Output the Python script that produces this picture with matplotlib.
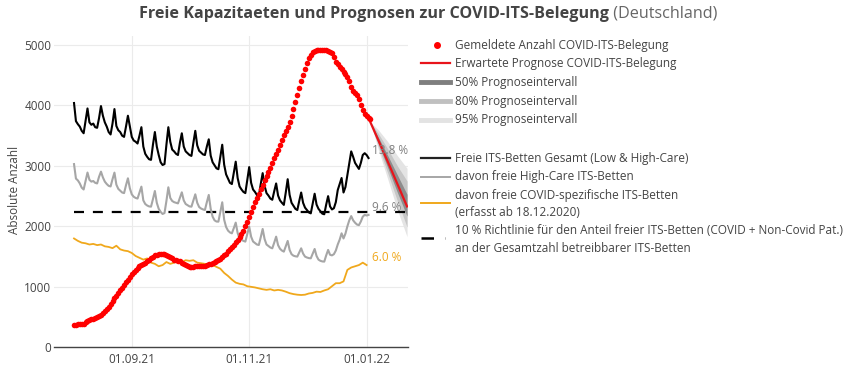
import matplotlib
matplotlib.use('Agg')
import matplotlib.pyplot as plt
import matplotlib.dates as mdates
from matplotlib.lines import Line2D
import pandas as pd

# ---------------- data ----------------
start_date = '2021-08-02'

red_occupancy = [
    370, 375, 380, 378, 385, 390, 420, 440, 445, 460,
    470, 490, 500, 520, 540, 570, 600, 630, 670, 720,
    770, 810, 850, 890, 940, 980, 1030, 1080, 1120, 1170,
    1210, 1250, 1280, 1310, 1340, 1360, 1380, 1400, 1420, 1450,
    1470, 1500, 1520, 1530, 1540, 1545, 1540, 1535, 1530, 1510,
    1490, 1470, 1450, 1440, 1430, 1420, 1400, 1380, 1360, 1345,
    1335, 1330, 1335, 1340, 1340, 1345, 1345, 1340, 1350, 1360,
    1370, 1380, 1395, 1405, 1420, 1440, 1460, 1490, 1520, 1550,
    1590, 1620, 1660, 1700, 1740, 1780, 1820, 1870, 1930, 2000,
    2080, 2160, 2240, 2320, 2400, 2470, 2540, 2610, 2680, 2760,
    2830, 2900, 2970, 3050, 3130, 3200, 3270, 3350, 3430, 3510,
    3580, 3640, 3720, 3820, 3940, 4060, 4170, 4290, 4400, 4500,
    4610, 4700, 4780, 4840, 4880, 4900, 4910, 4920, 4920, 4910,
    4920, 4910, 4900, 4890, 4860, 4800, 4720, 4680, 4640, 4600,
    4560, 4520, 4470, 4400, 4300, 4240, 4210, 4170, 4100, 4000,
    3920, 3860, 3820, 3800, 3780,
]

free_total = [
    4040, 3740, 3690, 3650, 3580, 3540, 3750,
    3950, 3720, 3680, 3700, 3640, 3630, 3790,
    3990, 3830, 3720, 3650, 3560, 3520, 3700,
    3940, 3660, 3590, 3560, 3500, 3480, 3650,
    3830, 3650, 3480, 3420, 3400, 3370, 3500,
    3640, 3320, 3200, 3150, 3110, 3100, 3350,
    3560, 3320, 3180, 3060, 3015, 3030, 3350,
    3640, 3400, 3270, 3240, 3200, 3180, 3380,
    3540, 3320, 3240, 3210, 3180, 3165, 3380,
    3580, 3340, 3250, 3220, 3190, 3180, 3320,
    3440, 3170, 3060, 3010, 2960, 2945, 3150,
    3350, 3020, 2860, 2790, 2720, 2700, 2880,
    3070, 2800, 2660, 2610, 2570, 2550, 2760,
    2980, 2720, 2610, 2570, 2520, 2500, 2700,
    2880, 2670, 2550, 2510, 2460, 2440, 2580,
    2710, 2510, 2430, 2390, 2355, 2560,
    2780, 2520, 2390, 2340, 2290, 2270, 2420,
    2560, 2390, 2310, 2270, 2230, 2215, 2380,
    2540, 2360, 2290, 2250, 2210, 2200, 2360,
    2500, 2330, 2280, 2300, 2400, 2600, 2700, 2800, 2560, 2650, 2850,
    3050, 3240, 3150, 3050, 3000, 2950, 3050, 3180, 3210, 3180, 3130,
]

free_high_care = [
    3030, 2790, 2760, 2710, 2640, 2610, 2750,
    2890, 2770, 2740, 2750, 2720, 2710, 2820,
    2905, 2810, 2740, 2700, 2670, 2660, 2780,
    2889, 2690, 2620, 2590, 2560, 2550, 2680,
    2795, 2630, 2530, 2490, 2470, 2460, 2560,
    2657, 2430, 2370, 2345, 2330, 2326, 2450,
    2585, 2390, 2290, 2240, 2205, 2220, 2420,
    2646, 2470, 2420, 2400, 2390, 2380, 2470,
    2563, 2430, 2370, 2350, 2330, 2326, 2430,
    2530, 2390, 2320, 2295, 2280, 2271, 2400,
    2520, 2290, 2160, 2100, 2080, 2078, 2240,
    2398, 2110, 1990, 1930, 1900, 1885, 1970,
    2062, 1890, 1800, 1775, 1760, 1748, 1870,
    1996, 1830, 1750, 1725, 1700, 1692, 1820,
    1957, 1790, 1700, 1675, 1650, 1637, 1730,
    1830, 1690, 1630, 1600, 1582, 1670,
    1759, 1610, 1540, 1515, 1505, 1500, 1570,
    1637, 1550, 1500, 1485, 1475, 1472, 1550,
    1626, 1510, 1450, 1430, 1420, 1417, 1520,
    1610, 1530, 1520, 1540, 1600, 1700, 1780, 1885, 1800, 1880, 2000,
    2100, 2170, 2100, 2060, 2030, 2020, 2080, 2160, 2190, 2180, 2190,
]

free_covid = [  # every second day
    1800, 1760, 1730, 1720, 1700, 1710, 1690, 1700, 1670, 1660,
    1640, 1680, 1620, 1600, 1590, 1560, 1510, 1480, 1450, 1470,
    1400, 1380, 1340, 1360, 1410, 1380, 1400, 1420, 1410, 1440,
    1430, 1440, 1400, 1390, 1380, 1370, 1360, 1330, 1300, 1230,
    1180, 1120, 1070, 1050, 1040, 1010, 1000, 990, 975, 960,
    950, 960, 940, 950, 940, 920, 895, 880, 870, 865,
    870, 890, 900, 920, 915, 940, 960, 1010, 1060, 1060,
    1090, 1280, 1320, 1340, 1360, 1400, 1360,
]

guideline_value = 2244

fc_dates = ['2022-01-03', '2022-01-07', '2022-01-12', '2022-01-17', '2022-01-22']
fc_mid = [3720, 3430, 3070, 2700, 2330]
fc50_lo = [3720, 3380, 2970, 2560, 2170]
fc50_hi = [3720, 3480, 3170, 2850, 2530]
fc80_lo = [3720, 3330, 2880, 2420, 1990]
fc80_hi = [3720, 3540, 3280, 3000, 2750]
fc95_lo = [3720, 3280, 2780, 2270, 1830]
fc95_hi = [3720, 3600, 3400, 3170, 2960]

tick_dates = ['2021-09-01', '2021-11-01', '2022-01-01']
tick_labels = ['01.09.21', '01.11.21', '01.01.22']
y_ticks = [0, 1000, 2000, 3000, 4000, 5000]

pct_labels = ['13.8 %', '9.6 %', '6.0 %']
pct_values = [3250, 2320, 1480]
pct_date = '2022-01-04'

legend_labels = [
    'Gemeldete Anzahl COVID-ITS-Belegung',
    'Erwartete Prognose COVID-ITS-Belegung',
    '50% Prognoseintervall',
    '80% Prognoseintervall',
    '95% Prognoseintervall',
    'Freie ITS-Betten Gesamt (Low & High-Care)',
    'davon freie High-Care ITS-Betten',
    'davon freie COVID-spezifische ITS-Betten',
    '(erfasst ab 18.12.2020)',
    '10 % Richtlinie für den Anteil freier ITS-Betten (COVID + Non-Covid Pat.)',
    'an der Gesamtzahl betreibbarer ITS-Betten',
]

# ---------------- styles ----------------
RED = '#ff0000'
BLACK = '#000000'
GRAY = '#a6a6a6'
ORANGE = '#f0a81c'
TXT = '#444444'

plt.rcParams['font.family'] = ['Open Sans', 'DejaVu Sans']

W, H = 850, 368
fig = plt.figure(figsize=(W / 100, H / 100), dpi=100)

def fx(x):
    return x / W

def fy(y):
    return 1 - y / H

ax = fig.add_axes([fx(54), fy(347.3), (408 - 54) / W, (347.3 - 35.9) / H])

d_red = pd.date_range(start_date, periods=len(red_occupancy), freq='D')
d_tot = pd.date_range(start_date, periods=len(free_total), freq='D')
d_hc = pd.date_range(start_date, periods=len(free_high_care), freq='D')
d_cov = pd.date_range(start_date, periods=len(free_covid), freq='2D')
d_fc = pd.to_datetime(fc_dates)

# forecast fan
ax.fill_between(d_fc, fc95_lo, fc95_hi, color='#e4e4e4', lw=0, zorder=1)
ax.fill_between(d_fc, fc80_lo, fc80_hi, color='#c6c6c6', lw=0, zorder=1.1)
ax.fill_between(d_fc, fc50_lo, fc50_hi, color='#8c8c8c', lw=0, zorder=1.2)

# guideline
ax.hlines(guideline_value, d_red[0], d_fc[-1], colors=BLACK, lw=1.6,
          linestyles=(0, (4.5, 4)), zorder=2)

ax.plot(d_hc, free_high_care, color=GRAY, lw=1.5, zorder=3)
ax.plot(d_tot, free_total, color=BLACK, lw=1.5, zorder=3.1)
ax.plot(d_cov, free_covid, color=ORANGE, lw=1.3, zorder=3.2)
ax.plot(d_fc, fc_mid, color='#e8141b', lw=1.6, zorder=4)
ax.scatter(d_red, red_occupancy, s=16, color=RED, lw=0, zorder=5)

pdx = pd.Timestamp(pct_date)
ax.text(pdx, pct_values[0], pct_labels[0], color='#808080', fontsize=8.5, va='center', ha='left', zorder=6)
ax.text(pdx, pct_values[1], pct_labels[1], color='#808080', fontsize=8.5, va='center', ha='left', zorder=6)
ax.text(pdx, pct_values[2], pct_labels[2], color=ORANGE, fontsize=8.5, va='center', ha='left', zorder=6)

sep1 = mdates.date2num(pd.Timestamp('2021-09-01'))
ax.set_xlim(sep1 - 40.4, sep1 + 143.5)
ax.set_ylim(0, 5150)
ax.set_xticks(pd.to_datetime(tick_dates))
ax.set_xticklabels(tick_labels)
ax.set_yticks(y_ticks)
ax.set_yticklabels([str(v) for v in y_ticks])
ax.grid(True, color='#ebebeb', lw=0.8)
ax.set_axisbelow(True)
for s in ['top', 'right', 'left']:
    ax.spines[s].set_visible(False)
ax.spines['bottom'].set_color('#444444')
ax.spines['bottom'].set_linewidth(1.0)
ax.tick_params(axis='both', length=0, labelsize=8.5, colors=TXT)
ax.tick_params(axis='y', pad=2)
ax.tick_params(axis='x', pad=4)

fig.text(fx(15), fy(190), 'Absolute Anzahl', rotation=90, va='center', ha='center',
         fontsize=8.5, color=TXT)

# title
t1 = fig.text(0, fy(14), 'Freie Kapazitaeten und Prognosen zur COVID-ITS-Belegung',
              fontsize=11.6, fontweight='bold', color='#444444', va='center', ha='left')
t2 = fig.text(0, fy(14), ' (Deutschland)', fontsize=11.6, color='#666666', va='center', ha='left')
r = fig.canvas.get_renderer()
w1 = t1.get_window_extent(r).width
w2 = t2.get_window_extent(r).width
x0 = 428 - (w1 + w2) / 2
t1.set_x(fx(x0))
t2.set_x(fx(x0 + w1))

# legend (manual)
lx0, lx1, tx = 421, 450, 455
fig.add_artist(Line2D([fx(437)], [fy(45)], marker='o', ms=4, color=RED, lw=0))
fig.add_artist(Line2D([fx(lx0), fx(lx1)], [fy(63.3)] * 2, color='#e8141b', lw=1.6))
fig.add_artist(Line2D([fx(lx0), fx(lx1)], [fy(82.3)] * 2, color='#7f7f7f', lw=3.5))
fig.add_artist(Line2D([fx(lx0), fx(lx1)], [fy(101)] * 2, color='#c0c0c0', lw=3.5))
fig.add_artist(Line2D([fx(lx0), fx(lx1)], [fy(120)] * 2, color='#e3e3e3', lw=3.5))
fig.add_artist(Line2D([fx(lx0), fx(lx1)], [fy(158.3)] * 2, color='#222222', lw=1.6))
fig.add_artist(Line2D([fx(lx0), fx(lx1)], [fy(176.7)] * 2, color=GRAY, lw=1.4))
fig.add_artist(Line2D([fx(lx0), fx(lx1)], [fy(202.7)] * 2, color=ORANGE, lw=1.4))
fig.add_artist(Line2D([fx(lx0), fx(445)], [fy(238.3)] * 2, color=BLACK, lw=1.8,
                      linestyle=(0, (5, 4.5))))

legend_y = [45, 63.3, 82.3, 101, 120, 158.3, 176.7, 195.7, 212.7, 231, 248.3]
for lab, yy in zip(legend_labels, legend_y):
    fig.text(fx(tx), fy(yy), lab, fontsize=8.5, color=TXT, va='center', ha='left')

fig.savefig('out.png', dpi=100)
